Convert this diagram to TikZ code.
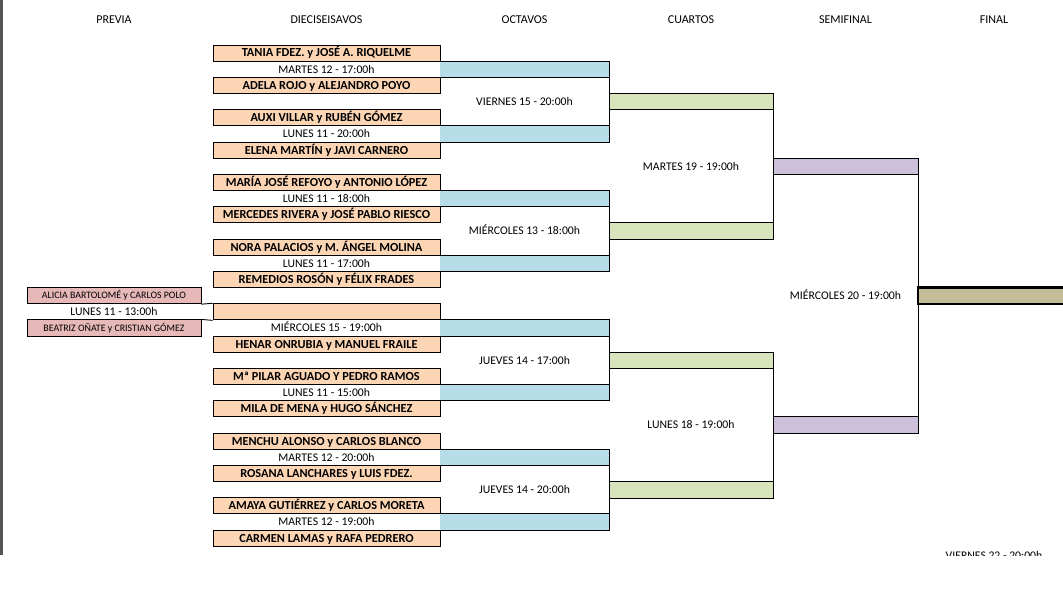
\documentclass[tikz,border=0pt]{standalone}
\usepackage{fontspec}
\setmainfont{Carlito}
\definecolor{parejacol}{RGB}{252,213,180}
\definecolor{previacol}{RGB}{230,184,183}
\definecolor{octavoscol}{RGB}{183,222,232}
\definecolor{cuartoscol}{RGB}{216,228,188}
\definecolor{semicol}{RGB}{204,192,218}
\definecolor{finalcol}{RGB}{196,189,151}
\definecolor{bordegris}{RGB}{85,85,85}

\begin{document}
\begin{tikzpicture}[
                x=1pt, y=-16.17pt,
                header/.style={inner sep=0pt, font=\fontsize{12}{14}\selectfont},
                pareja/.style={rectangle, draw=black, line width=0.9pt, fill=parejacol, minimum width=227pt, minimum height=16.17pt, inner sep=0pt, text height=7.8pt, text depth=0pt, font=\fontsize{12.3}{14}\selectfont\bfseries},
                previa/.style={pareja, fill=previacol, minimum width=174pt, text height=6.3pt, font=\fontsize{9.9}{12}\selectfont},
                fecha/.style={inner sep=0pt, text height=7.5pt, text depth=0pt, font=\fontsize{11.7}{14}\selectfont},
                ronda/.style={rectangle, inner sep=0pt, minimum height=16.17pt},
                octavo/.style={ronda, fill=octavoscol, minimum width=169pt},
                cuarto/.style={ronda, fill=cuartoscol, minimum width=164pt},
                semi/.style={ronda, fill=semicol, minimum width=145pt},
                linea/.style={line width=0.9pt}
                ]
                \useasboundingbox (0,-2.783) rectangle (1063,35.188);
                \fill[bordegris] (0,-2.783) rectangle (3,31.54);

                \node[header] (hprevia) at (114,-1.546) {PREVIA};
                \node[header] (hdieci) at (326.5,-1.546) {DIECISEISAVOS};
                \node[header] (hoctavos) at (524.5,-1.546) {OCTAVOS};
                \node[header] (hcuartos) at (691,-1.546) {CUARTOS};
                \node[header] (hsemi) at (845.5,-1.546) {SEMIFINAL};
                \node[header] (hfinal) at (994,-1.546) {FINAL};

                % previa
                \node[previa] (pv1) at (114,15.5) {ALICIA BARTOLOMÉ y CARLOS POLO};
                \node[fecha] (dpv) at (114,16.5) {LUNES 11 - 13:00h};
                \node[previa] (pv2) at (114,17.5) {BEATRIZ OÑATE y CRISTIAN GÓMEZ};

                % dieciseisavos
                \node[pareja] (p1) at (326.5,0.5) {TANIA FDEZ. y JOSÉ A. RIQUELME};
                \node[fecha] (d1) at (326.5,1.5) {MARTES 12 - 17:00h};
                \node[pareja] (p2) at (326.5,2.5) {ADELA ROJO y ALEJANDRO POYO};
                \node[pareja] (p3) at (326.5,4.5) {AUXI VILLAR y RUBÉN GÓMEZ};
                \node[fecha] (d2) at (326.5,5.5) {LUNES 11 - 20:00h};
                \node[pareja] (p4) at (326.5,6.5) {ELENA MARTÍN y JAVI CARNERO};
                \node[pareja] (p5) at (326.5,8.5) {MARÍA JOSÉ REFOYO y ANTONIO LÓPEZ};
                \node[fecha] (d3) at (326.5,9.5) {LUNES 11 - 18:00h};
                \node[pareja] (p6) at (326.5,10.5) {MERCEDES RIVERA y JOSÉ PABLO RIESCO};
                \node[pareja] (p7) at (326.5,12.5) {NORA PALACIOS y M. ÁNGEL MOLINA};
                \node[fecha] (d4) at (326.5,13.5) {LUNES 11 - 17:00h};
                \node[pareja] (p8) at (326.5,14.5) {REMEDIOS ROSÓN y FÉLIX FRADES};
                \node[pareja] (p9) at (326.5,16.5) {};
                \node[fecha] (d5) at (326.5,17.5) {MIÉRCOLES 15 - 19:00h};
                \node[pareja] (p10) at (326.5,18.5) {HENAR ONRUBIA y MANUEL FRAILE};
                \node[pareja] (p11) at (326.5,20.5) {Mª PILAR AGUADO Y PEDRO RAMOS};
                \node[fecha] (d6) at (326.5,21.5) {LUNES 11 - 15:00h};
                \node[pareja] (p12) at (326.5,22.5) {MILA DE MENA y HUGO SÁNCHEZ};
                \node[pareja] (p13) at (326.5,24.5) {MENCHU ALONSO y CARLOS BLANCO};
                \node[fecha] (d7) at (326.5,25.5) {MARTES 12 - 20:00h};
                \node[pareja] (p14) at (326.5,26.5) {ROSANA LANCHARES y LUIS FDEZ.};
                \node[pareja] (p15) at (326.5,28.5) {AMAYA GUTIÉRREZ y CARLOS MORETA};
                \node[fecha] (d8) at (326.5,29.5) {MARTES 12 - 19:00h};
                \node[pareja] (p16) at (326.5,30.5) {CARMEN LAMAS y RAFA PEDRERO};

                \draw[linea] (pv1.south east) -- (p9.north west);
                \draw[linea] (pv2.north east) -- (p9.south west);

                % octavos
                \node[octavo] (o1) at (524.5,1.5) {};
                \node[octavo] (o2) at (524.5,5.5) {};
                \node[octavo] (o3) at (524.5,9.5) {};
                \node[octavo] (o4) at (524.5,13.5) {};
                \node[octavo] (o5) at (524.5,17.5) {};
                \node[octavo] (o6) at (524.5,21.5) {};
                \node[octavo] (o7) at (524.5,25.5) {};
                \node[octavo] (o8) at (524.5,29.5) {};
                \node[fecha] (do1) at (524.5,3.5) {VIERNES 15 - 20:00h};
                \node[fecha] (do2) at (524.5,11.5) {MIÉRCOLES 13 - 18:00h};
                \node[fecha] (do3) at (524.5,19.5) {JUEVES 14 - 17:00h};
                \node[fecha] (do4) at (524.5,27.5) {JUEVES 14 - 20:00h};

                % cuartos
                \node[cuarto] (c1) at (691,3.5) {};
                \node[cuarto] (c2) at (691,11.5) {};
                \node[cuarto] (c3) at (691,19.5) {};
                \node[cuarto] (c4) at (691,27.5) {};
                \node[fecha] (dc1) at (691,7.5) {MARTES 19 - 19:00h};
                \node[fecha] (dc2) at (691,23.5) {LUNES 18 - 19:00h};

                % semifinal y final
                \node[semi] (s1) at (845.5,7.5) {};
                \node[semi] (s2) at (845.5,23.5) {};
                \node[fecha] (ds) at (845.5,15.5) {MIÉRCOLES 20 - 19:00h};
                \node[ronda, fill=finalcol, draw=black, line width=2.2pt, minimum width=160pt] (fin) at (998,15.5) {};

                \foreach \a/\b in {o1/o2, o3/o4, o5/o6, o7/o8, c1/c2, c3/c4, s1/s2} {
                    \draw[linea] (\a.north west) -- (\a.north east) -- (\b.south east) -- (\b.south west);
                    \draw[linea] (\a.south west) -- (\a.south east);
                    \draw[linea] (\b.north west) -- (\b.north east);
                }

                \begin{scope}
                    \clip (900,30) rectangle (1063,31.54);
                    \node[fecha] (df) at (994,31.6) {VIERNES 22 - 20:00h};
                \end{scope}
            \end{tikzpicture}
\end{document}
